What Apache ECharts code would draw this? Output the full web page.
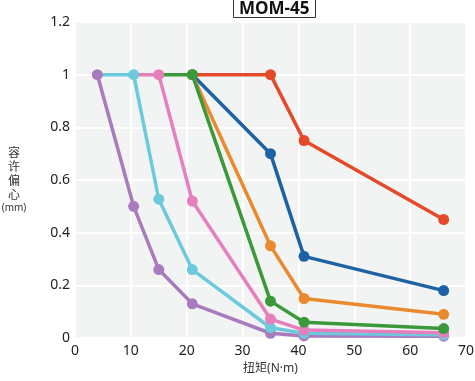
<!DOCTYPE html>
<html>
<head>
<meta charset="utf-8">
<script src="https://cdn.jsdelivr.net/npm/echarts@6/dist/echarts.min.js"></script>
<style>html,body{margin:0;padding:0;background:#fff;}#c{width:475px;height:381px;}</style>
</head>
<body>
<div id="c"></div>
<script>
const titleText = 'MOM-45';
const xName = '扭矩(N·m)';
const yNameChars = ['容', '许', '偏', '心'];
const yNameUnit = '(mm)';
const xTicks = [0, 10, 20, 30, 40, 50, 60, 70];
const yTicks = [0, 0.2, 0.4, 0.6, 0.8, 1, 1.2];

// [torque, eccentricity]; first point of some series hidden (covered by another series' marker)
const seriesRed    = [[21, 1], [35, 1], [41, 0.75], [66, 0.45]];
const seriesBlue   = [[21, 1], [35, 0.70], [41, 0.31], [66, 0.18]];
const seriesOrange = [[21, 1], [35, 0.35], [41, 0.15], [66, 0.09]];
const seriesGreen  = [[15, 1], [21, 1], [35, 0.14], [41, 0.06], [66, 0.036]];
const seriesPink   = [[10.5, 1], [15, 1], [21, 0.52], [35, 0.072], [41, 0.03], [66, 0.02]];
const seriesCyan   = [[4, 1], [10.5, 1], [15, 0.527], [21, 0.26], [35, 0.039], [41, 0.018], [66, 0.012]];
const seriesPurple = [[4, 1], [10.5, 0.5], [15, 0.26], [21, 0.13], [35, 0.018], [41, 0.008], [66, 0.007]];

const colors = {
  red: '#e54a28', blue: '#1d62a5', orange: '#ea8a2f', green: '#3b993b',
  pink: '#e57fbd', cyan: '#6dc9dc', purple: '#a97bbd'
};

function mk(name, data, color, hideFirst) {
  return {
    name: name, type: 'line', data: data.map((p, i) => (hideFirst && i === 0) ? { value: p, symbol: 'none' } : p),
    symbol: 'circle', symbolSize: 11, showSymbol: true,
    lineStyle: { color: color, width: 3.5 },
    itemStyle: { color: color },
    emphasis: { disabled: true }, animation: false
  };
}

const yName = yNameChars.map(c => '{c|' + c + '}').join('\n') + '\n{u|' + yNameUnit + '}';

const chart = echarts.init(document.getElementById('c'), null, { renderer: 'canvas' });
chart.setOption({
  animation: false,
  title: {
    text: titleText, left: 233, top: 0,
    padding: [1, 6, 0, 6],
    borderColor: '#333', borderWidth: 1,
    textStyle: { fontFamily: 'Open Sans, sans-serif', fontWeight: 'bold', fontSize: 17, color: '#111', lineHeight: 16 }
  },
  grid: { left: 75, right: 9, top: 22, bottom: 43, show: true, backgroundColor: '#f2f4f4', borderWidth: 0, outerBoundsMode: 'none', containLabel: false },
  xAxis: {
    type: 'value', min: xTicks[0], max: xTicks[xTicks.length - 1], interval: 10,
    name: xName, nameLocation: 'middle', nameGap: 25,
    nameTextStyle: { fontFamily: 'Noto Sans, Noto Sans CJK SC', fontSize: 12, color: '#333' },
    axisLine: { show: false }, axisTick: { show: false },
    axisLabel: { fontFamily: 'Noto Sans', fontSize: 14, color: '#222', margin: 6 },
    splitLine: { show: true, lineStyle: { color: '#ffffff', width: 2 } }
  },
  yAxis: {
    type: 'value', min: yTicks[0], max: yTicks[yTicks.length - 1], interval: 0.2,
    name: yName, nameLocation: 'middle', nameGap: 61, nameRotate: 0,
    nameTextStyle: {
      align: 'center',
      rich: {
        c: { fontFamily: 'Noto Sans CJK SC', fontSize: 12, color: '#333', lineHeight: 14, align: 'center' },
        u: { fontFamily: 'Noto Sans, Noto Sans CJK SC', fontSize: 10, color: '#333', lineHeight: 14, align: 'center' }
      }
    },
    axisLine: { show: false }, axisTick: { show: false },
    axisLabel: { fontFamily: 'Noto Sans', fontSize: 14, color: '#222', margin: 5 },
    splitLine: { show: true, lineStyle: { color: '#ffffff', width: 2 } }
  },
  series: [
    mk('purple', seriesPurple, colors.purple, false),
    mk('cyan', seriesCyan, colors.cyan, true),
    mk('pink', seriesPink, colors.pink, true),
    mk('blue', seriesBlue, colors.blue, false),
    mk('orange', seriesOrange, colors.orange, false),
    mk('green', seriesGreen, colors.green, true),
    mk('red', seriesRed, colors.red, true)
  ]
});
</script>
</body>
</html>
